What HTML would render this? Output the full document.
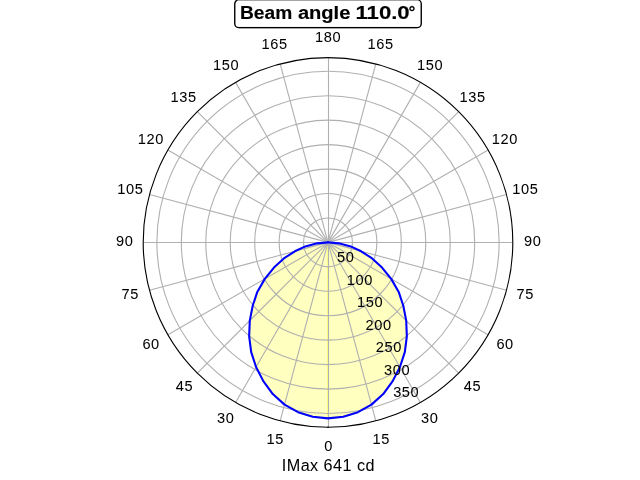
<!DOCTYPE html>
<html lang="en">
<head>
<meta charset="utf-8">
<title>Beam angle 110.0°</title>
<style>
html,body{margin:0;padding:0;background:#fff;}
body{width:640px;height:480px;overflow:hidden;font-family:"Liberation Sans",sans-serif;}
svg{display:block;position:absolute;left:0;top:0;}
text{font-family:"Liberation Sans",sans-serif;fill:#000;}
.g{fill:none;stroke:#b0b0b0;stroke-width:1.111;}
.tk{font-size:14.6px;letter-spacing:0.62px;stroke:#000;stroke-width:0.04px;}
.ti{font-size:17.66px;letter-spacing:0.0px;font-weight:bold;stroke:#000;stroke-width:0.15px;}
.xl{font-size:16.19px;letter-spacing:0.45px;stroke:#000;stroke-width:0.045px;}
</style>
</head>
<body>
<svg width="640" height="480" viewBox="0 0 640 480">
<rect x="0" y="0" width="640" height="480" fill="#ffffff"/>
<g id="plot">
<path d="M328.00,242.40 L317.25,243.34 L305.33,246.40 L294.87,251.28 L283.85,258.47 L273.97,267.59 L264.80,278.89 L257.30,291.90 L252.77,305.53 L249.78,320.62 L249.16,336.36 L251.19,352.09 L256.05,367.02 L263.32,381.11 L272.79,394.09 L284.53,404.63 L298.06,412.18 L312.74,416.83 L328.00,418.40 L343.26,416.83 L357.94,412.18 L371.47,404.63 L383.21,394.09 L392.68,381.11 L399.95,367.02 L404.81,352.09 L406.84,336.36 L406.22,320.62 L403.23,305.53 L398.70,291.90 L391.20,278.89 L382.03,267.59 L372.15,258.47 L361.13,251.28 L350.67,246.40 L338.75,243.34 L328.00,242.40 Z" fill="#ffffbf" stroke="#ffffbf" stroke-width="1.2" stroke-linejoin="round"/>
<rect x="327" y="243.4" width="1" height="175.0" fill="#fcfc80"/>
<line class="g" x1="328.5" y1="242.40" x2="328.5" y2="427.20"/>
<line class="g" x1="328.00" y1="242.40" x2="375.83" y2="420.90"/>
<line class="g" x1="328.00" y1="242.40" x2="420.40" y2="402.44"/>
<line class="g" x1="328.00" y1="242.40" x2="458.67" y2="373.07"/>
<line class="g" x1="328.00" y1="242.40" x2="488.04" y2="334.80"/>
<line class="g" x1="328.00" y1="242.40" x2="506.50" y2="290.23"/>
<line class="g" x1="328.00" y1="242.5" x2="512.80" y2="242.5"/>
<line class="g" x1="328.00" y1="242.40" x2="506.50" y2="194.57"/>
<line class="g" x1="328.00" y1="242.40" x2="488.04" y2="150.00"/>
<line class="g" x1="328.00" y1="242.40" x2="458.67" y2="111.73"/>
<line class="g" x1="328.00" y1="242.40" x2="420.40" y2="82.36"/>
<line class="g" x1="328.00" y1="242.40" x2="375.83" y2="63.90"/>
<line class="g" x1="328.5" y1="242.40" x2="328.5" y2="57.60"/>
<line class="g" x1="328.00" y1="242.40" x2="280.17" y2="63.90"/>
<line class="g" x1="328.00" y1="242.40" x2="235.60" y2="82.36"/>
<line class="g" x1="328.00" y1="242.40" x2="197.33" y2="111.73"/>
<line class="g" x1="328.00" y1="242.40" x2="167.96" y2="150.00"/>
<line class="g" x1="328.00" y1="242.40" x2="149.50" y2="194.57"/>
<line class="g" x1="328.00" y1="242.5" x2="143.20" y2="242.5"/>
<line class="g" x1="328.00" y1="242.40" x2="149.50" y2="290.23"/>
<line class="g" x1="328.00" y1="242.40" x2="167.96" y2="334.80"/>
<line class="g" x1="328.00" y1="242.40" x2="197.33" y2="373.07"/>
<line class="g" x1="328.00" y1="242.40" x2="235.60" y2="402.44"/>
<line class="g" x1="328.00" y1="242.40" x2="280.17" y2="420.90"/>
<circle class="g" cx="328.0" cy="242.4" r="24.44"/>
<circle class="g" cx="328.0" cy="242.4" r="48.89"/>
<circle class="g" cx="328.0" cy="242.4" r="73.33"/>
<circle class="g" cx="328.0" cy="242.4" r="97.78"/>
<circle class="g" cx="328.0" cy="242.4" r="122.22"/>
<circle class="g" cx="328.0" cy="242.4" r="146.67"/>
<circle class="g" cx="328.0" cy="242.4" r="171.11"/>
<path d="M328.00,242.40 L317.25,243.34 L305.33,246.40 L294.87,251.28 L283.85,258.47 L273.97,267.59 L264.80,278.89 L257.30,291.90 L252.77,305.53 L249.78,320.62 L249.16,336.36 L251.19,352.09 L256.05,367.02 L263.32,381.11 L272.79,394.09 L284.53,404.63 L298.06,412.18 L312.74,416.83 L328.00,418.40 L343.26,416.83 L357.94,412.18 L371.47,404.63 L383.21,394.09 L392.68,381.11 L399.95,367.02 L404.81,352.09 L406.84,336.36 L406.22,320.62 L403.23,305.53 L398.70,291.90 L391.20,278.89 L382.03,267.59 L372.15,258.47 L361.13,251.28 L350.67,246.40 L338.75,243.34 L328.00,242.40" fill="none" stroke="#0000ff" stroke-width="2.083" stroke-linejoin="round" stroke-linecap="square"/>
<circle cx="328.0" cy="242.4" r="184.8" fill="none" stroke="#000" stroke-width="1.111"/>
<rect x="327.3" y="426.64" width="1.4" height="1.12" fill="#000"/>
<rect x="234.75" y="-0.34" width="186.5" height="28" rx="4.2" ry="4.2" fill="#fff" stroke="#000" stroke-width="1.389"/>
<rect x="238.6" y="0" width="178.8" height="1" fill="#000" fill-opacity="0.137"/>
<rect x="238.6" y="28" width="178.8" height="1" fill="#000" fill-opacity="0.137"/>
<rect x="238.6" y="26" width="178.8" height="1" fill="#000" fill-opacity="0.04"/>
</g>
<g id="labels" style="filter:grayscale(1)">
<text class="tk" x="324.24" y="451.00">0</text>
<text class="tk" x="372.56" y="444.00">15</text>
<text class="tk" x="421.11" y="423.00">30</text>
<text class="tk" x="463.73" y="391.00">45</text>
<text class="tk" x="496.38" y="349.00">60</text>
<text class="tk" x="516.49" y="299.00">75</text>
<text class="tk" x="524.10" y="246.00">90</text>
<text class="tk" x="512.30" y="194.00">105</text>
<text class="tk" x="491.80" y="144.00">120</text>
<text class="tk" x="459.47" y="102.00">135</text>
<text class="tk" x="416.96" y="70.00">150</text>
<text class="tk" x="367.46" y="49.00">165</text>
<text class="tk" x="314.96" y="42.00">180</text>
<text class="tk" x="261.46" y="49.00">165</text>
<text class="tk" x="212.96" y="70.00">150</text>
<text class="tk" x="170.47" y="102.00">135</text>
<text class="tk" x="137.80" y="144.00">120</text>
<text class="tk" x="117.30" y="194.00">105</text>
<text class="tk" x="116.10" y="246.00">90</text>
<text class="tk" x="121.49" y="299.00">75</text>
<text class="tk" x="142.38" y="349.00">60</text>
<text class="tk" x="175.73" y="391.00">45</text>
<text class="tk" x="217.11" y="423.00">30</text>
<text class="tk" x="266.56" y="444.00">15</text>
<text class="tk" x="337.11" y="262.00">50</text>
<text class="tk" x="346.79" y="285.00">100</text>
<text class="tk" x="356.96" y="307.00">150</text>
<text class="tk" x="365.53" y="330.00">200</text>
<text class="tk" x="375.67" y="352.00">250</text>
<text class="tk" x="383.94" y="375.00">300</text>
<text class="tk" x="393.13" y="397.00">350</text>
<text class="xl" x="281.78" y="471.00">IMax 641 cd</text>
<text class="ti" transform="translate(239.98,19.00) scale(1.086,1)">Beam</text>
<text class="ti" transform="translate(297.88,19.00) scale(1.139,1)">angle</text>
<text class="ti" transform="translate(355.51,19.00) scale(1.2547,1)">110.0</text>
<text class="ti" transform="translate(408.44,18.00) scale(0.98,1)">°</text>
</g>
</svg>
</body>
</html>
